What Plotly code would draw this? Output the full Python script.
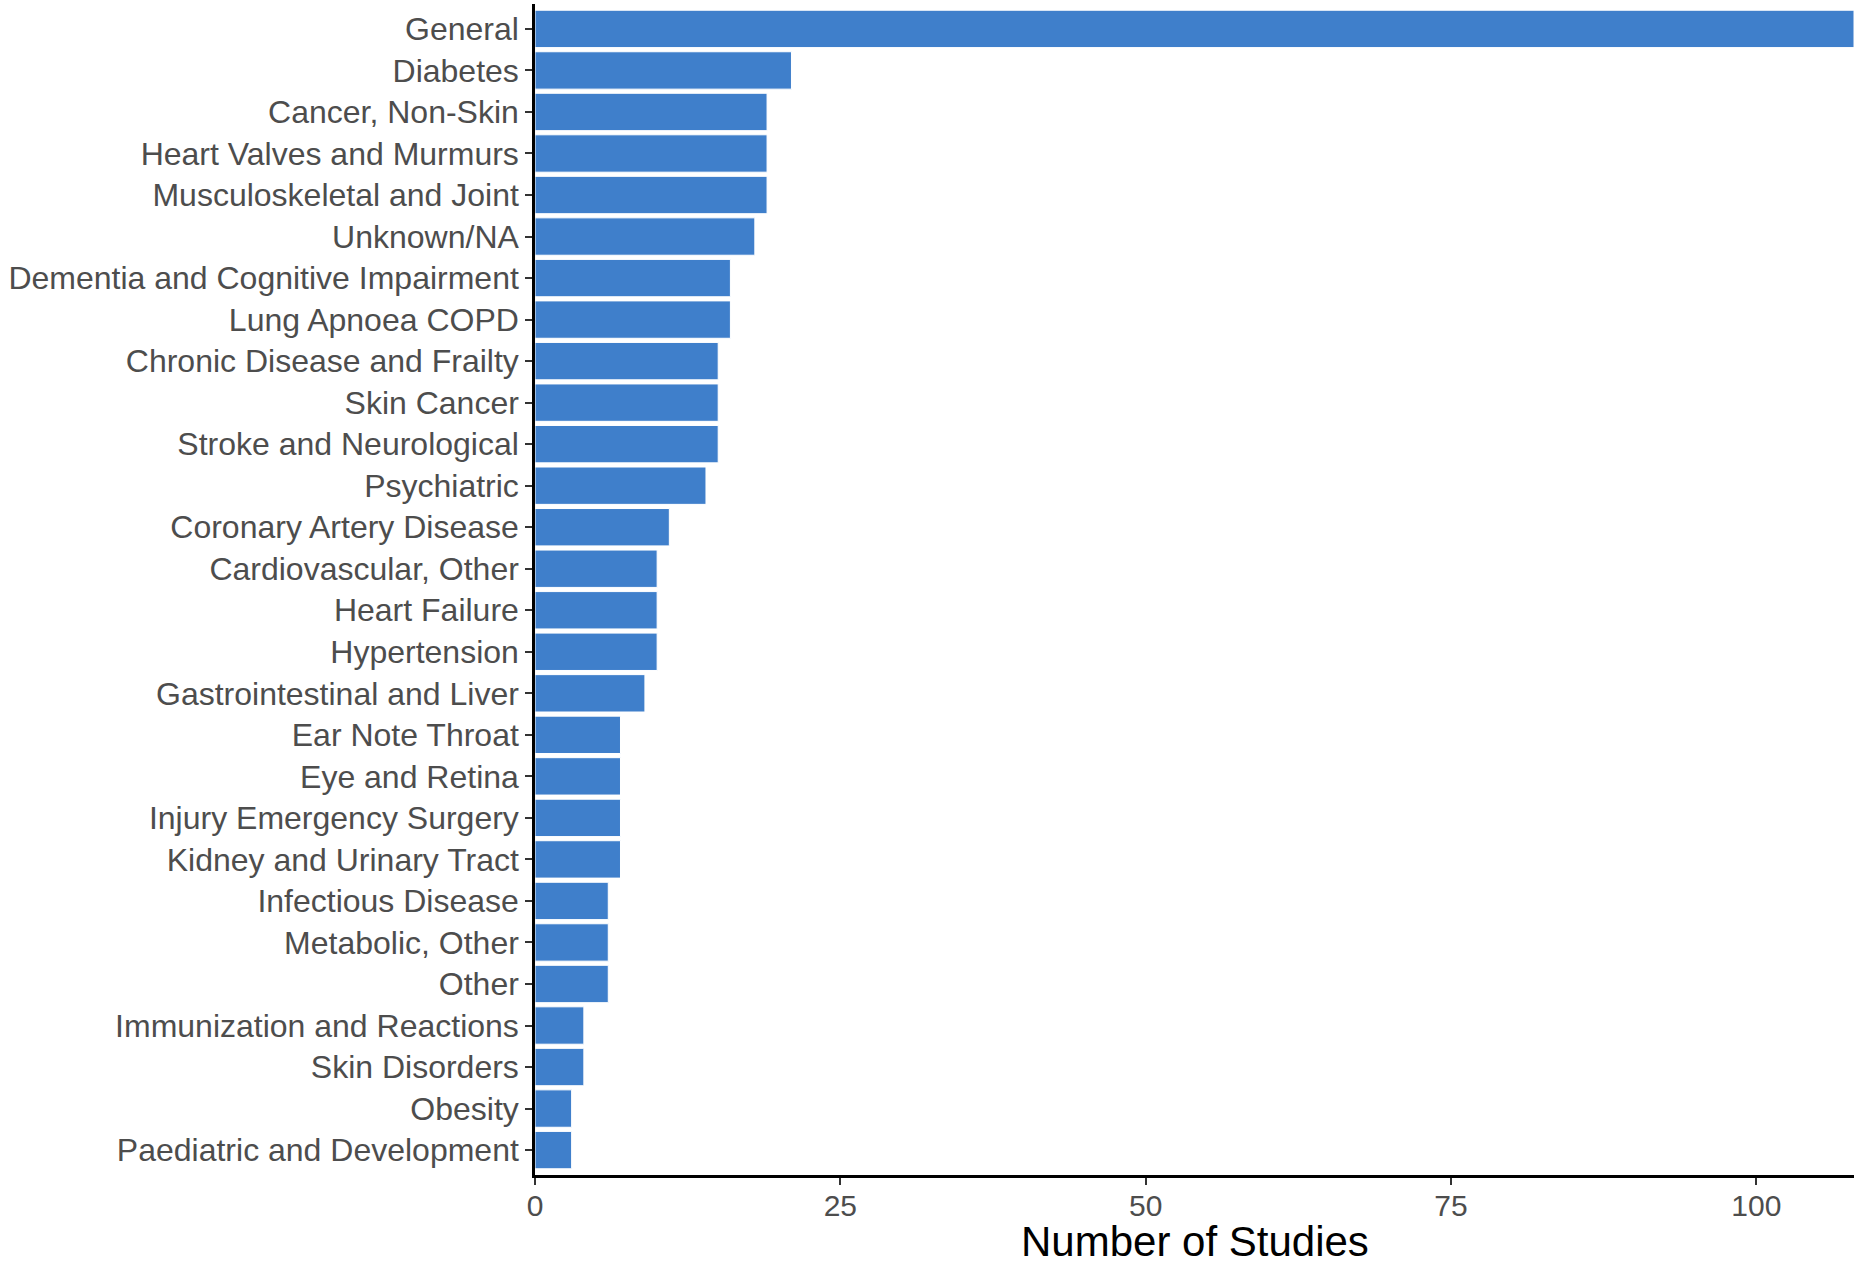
import plotly.graph_objects as go

categories = [
    "General", "Diabetes", "Cancer, Non-Skin", "Heart Valves and Murmurs",
    "Musculoskeletal and Joint", "Unknown/NA", "Dementia and Cognitive Impairment",
    "Lung Apnoea COPD", "Chronic Disease and Frailty", "Skin Cancer",
    "Stroke and Neurological", "Psychiatric", "Coronary Artery Disease",
    "Cardiovascular, Other", "Heart Failure", "Hypertension",
    "Gastrointestinal and Liver", "Ear Note Throat", "Eye and Retina",
    "Injury Emergency Surgery", "Kidney and Urinary Tract", "Infectious Disease",
    "Metabolic, Other", "Other", "Immunization and Reactions", "Skin Disorders",
    "Obesity", "Paediatric and Development",
]
counts = [108, 21, 19, 19, 19, 18, 16, 16, 15, 15, 15, 14, 11, 10, 10, 10,
          9, 7, 7, 7, 7, 6, 6, 6, 4, 4, 3, 3]
x_ticks = [0, 25, 50, 75, 100]

fig = go.Figure(go.Bar(
    x=counts, y=categories, orientation="h",
    marker=dict(color="#3F7FCB", line=dict(color="white", width=1)),
    width=0.9,
))

font_family = "Liberation Sans, Arial, sans-serif"
fig.update_layout(
    width=1854, height=1262,
    margin=dict(l=535, r=0, t=4, b=87, autoexpand=False),
    plot_bgcolor="white", paper_bgcolor="white",
    showlegend=False,
    font=dict(family=font_family),
    xaxis=dict(
        range=[0, 108], tickvals=x_ticks, showgrid=False, zeroline=False,
        showline=True, linecolor="black", linewidth=2.5,
        ticks="outside", ticklen=7, tickwidth=2, tickcolor="#333333",
        ticklabelstandoff=-5,
        tickfont=dict(size=30, color="#4D4D4D", family=font_family),
        automargin=False,
    ),
    yaxis=dict(
        categoryorder="array", categoryarray=categories,
        autorange=False, range=[27.6, -0.6],
        showgrid=False, zeroline=False,
        showline=True, linecolor="black", linewidth=2.5,
        ticks="outside", ticklen=7, tickwidth=2, tickcolor="#333333",
        tickfont=dict(size=32, color="#4D4D4D", family=font_family),
        automargin=False,
    ),
    annotations=[dict(
        text="Number of Studies", xref="paper", yref="paper",
        x=0.5, y=0, xanchor="center", yanchor="middle", yshift=-66,
        showarrow=False, font=dict(size=42, color="black", family=font_family),
    )],
)

fig.write_html(
    "out.html",
    config={"displayModeBar": False},
    post_script="document.body.style.margin='0';document.body.style.overflow='hidden';",
)
